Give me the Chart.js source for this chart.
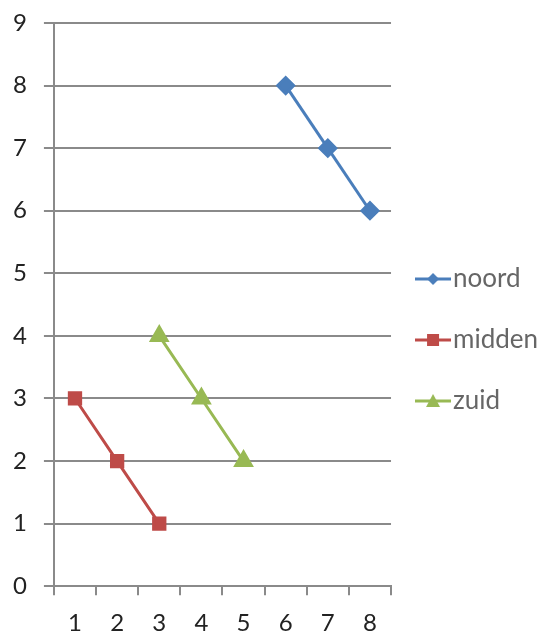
<!DOCTYPE html>
<html>
<head>
<meta charset="utf-8">
<script src="https://cdn.jsdelivr.net/npm/chart.js@4/dist/chart.umd.min.js"></script>
<style>
  html, body { margin: 0; padding: 0; background: #fff; overflow: hidden; }
  #wrap { width: 548px; height: 637px; }
</style>
</head>
<body>
<div id="wrap"><canvas id="chart"></canvas></div>
<script>
const categories = ["1", "2", "3", "4", "5", "6", "7", "8"];
const noord = [null, null, null, null, null, 8, 7, 6];
const midden = [3, 2, 1, null, null, null, null, null];
const zuid = [null, null, 4, 3, 2, null, null, null];
const yTicks = [0, 1, 2, 3, 4, 5, 6, 7, 8, 9];

const colors = { noord: "#4a7ebb", midden: "#be4b48", zuid: "#98b954" };
const gridColor = "#8a8a8a";

// small line + marker picture for the legend, like the spreadsheet one
function legendIcon(color, shape) {
  const c = document.createElement("canvas");
  c.width = 36; c.height = 16;
  const g = c.getContext("2d");
  g.strokeStyle = color; g.fillStyle = color; g.lineWidth = 3;
  g.beginPath(); g.moveTo(0, 8); g.lineTo(36, 8); g.stroke();
  g.beginPath();
  if (shape === "diamond") {
    g.moveTo(18, 2); g.lineTo(24, 8); g.lineTo(18, 14); g.lineTo(12, 8);
  } else if (shape === "square") {
    g.rect(12, 2, 12, 12);
  } else {
    g.moveTo(18, 1); g.lineTo(25, 14); g.lineTo(11, 14);
  }
  g.closePath(); g.fill();
  return c;
}

const icons = [
  legendIcon(colors.noord, "diamond"),
  legendIcon(colors.midden, "square"),
  legendIcon(colors.zuid, "triangle")
];

const ctx = document.getElementById("chart").getContext("2d");
const chart = new Chart(ctx, {
  type: "line",
  data: {
    labels: categories,
    datasets: [
      {
        label: "noord",
        data: noord,
        borderColor: colors.noord,
        backgroundColor: colors.noord,
        borderWidth: 3,
        pointStyle: "rectRot",
        pointRadius: 8,
        pointHoverRadius: 8,
      },
      {
        label: "midden",
        data: midden,
        borderColor: colors.midden,
        backgroundColor: colors.midden,
        borderWidth: 3,
        pointStyle: "rect",
        pointRadius: 8,
        pointHoverRadius: 8,
      },
      {
        label: "zuid",
        data: zuid,
        borderColor: colors.zuid,
        backgroundColor: colors.zuid,
        borderWidth: 3,
        pointStyle: "triangle",
        pointRadius: 9,
        pointHoverRadius: 9,
      },
    ],
  },
  options: {
    responsive: true,
    maintainAspectRatio: false,
    animation: false,
    layout: { padding: { left: -4, right: 0, top: 2, bottom: -15 } },
    plugins: {
      tooltip: { enabled: false },
      legend: {
        position: "right",
        maxWidth: 158,
        // empty title only pushes the entries down a little
        title: { display: true, text: "", padding: 0, font: { size: 26, lineHeight: 1 } },
        labels: {
          font: { family: "Lato", size: 26 },
          color: "#222",
          usePointStyle: true,
          pointStyleWidth: 14,
          padding: 35,
          generateLabels: (ch) =>
            ch.data.datasets.map((ds, i) => ({
              text: ds.label,
              fillStyle: ds.backgroundColor,
              strokeStyle: ds.borderColor,
              pointStyle: icons[i],
              lineWidth: 0,
              hidden: false,
              datasetIndex: i,
            })),
        },
      },
    },
    scales: {
      x: {
        offset: true,
        grid: {
          offset: true,
          drawOnChartArea: false,
          drawTicks: true,
          tickLength: 9,
          color: gridColor,
          lineWidth: 2,
        },
        border: { color: gridColor, width: 2 },
        ticks: {
          font: { family: "Lato", size: 24 },
          color: "#222",
          padding: 14,
          maxRotation: 0,
        },
      },
      y: {
        min: 0,
        max: 9,
        afterBuildTicks: (axis) => {
          axis.ticks = yTicks.map((v) => ({ value: v }));
        },
        grid: {
          color: gridColor,
          lineWidth: 2,
          tickLength: 10,
        },
        border: { color: gridColor, width: 2 },
        ticks: {
          font: { family: "Lato", size: 24, lineHeight: 0.5 },
          color: "#222",
          padding: 17,
        },
      },
    },
  },
});
</script>
</body>
</html>
